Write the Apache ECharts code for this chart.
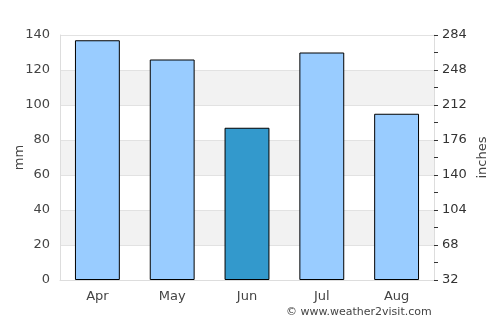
<!DOCTYPE html>
<html>
<head>
<meta charset="utf-8">
<script src="https://cdn.jsdelivr.net/npm/echarts@6/dist/echarts.min.js"></script>
<style>
  html, body { margin: 0; padding: 0; background: #fff; }
  #chart { width: 500px; height: 325px; }
</style>
</head>
<body>
<div id="chart"></div>
<script>
// monthly rainfall, mm
const months = ['Apr', 'May', 'Jun', 'Jul', 'Aug'];
const rainMm = [137, 126, 87, 130, 95];
const highlightMonth = 'Jun';

const chart = echarts.init(document.getElementById('chart'));

const barData = rainMm.map((v, i) => ({
    value: v,
    itemStyle: { color: months[i] === highlightMonth ? '#3399cc' : '#99ccff' }
}));

chart.setOption({
    animation: false,
    grid: { left: 60, right: 66, top: 35, bottom: 45, containLabel: false, outerBoundsMode: 'none' },
    xAxis: {
        type: 'category',
        data: months,
        axisLine: { lineStyle: { color: '#dddddd' } },
        axisTick: { show: false },
        axisLabel: { color: '#444', fontSize: 13, margin: 10, fontFamily: 'DejaVu Sans' }
    },
    yAxis: [{
        type: 'value',
        min: 0, max: 140, interval: 20,
        name: 'mm',
        nameLocation: 'middle',
        nameGap: 34,
        nameMoveOverlap: false,
        nameTextStyle: { color: '#444', fontSize: 13, fontFamily: 'DejaVu Sans' },
        axisLine: { show: true, lineStyle: { color: '#dddddd' } },
        axisTick: { show: false },
        axisLabel: { color: '#444', fontSize: 13, margin: 10, fontFamily: 'DejaVu Sans' },
        splitLine: { lineStyle: { color: '#e2e2e2' } },
        splitArea: { show: true, areaStyle: { color: ['#ffffff', '#f2f2f2'] } }
    }, {
        type: 'value',
        position: 'right',
        min: 0, max: 140, interval: 20,
        name: 'inches',
        nameLocation: 'middle',
        nameGap: 42,
        nameMoveOverlap: false,
        nameTextStyle: { color: '#444', fontSize: 13, fontFamily: 'DejaVu Sans' },
        axisLine: { show: true, lineStyle: { color: '#dddddd' } },
        axisTick: { show: true, length: 4, lineStyle: { color: '#333' } },
        minorTick: { show: true, splitNumber: 2, length: 4, lineStyle: { color: '#333' } },
        axisLabel: {
            color: '#333', fontSize: 13, margin: 8, fontFamily: 'DejaVu Sans',
            formatter: v => Math.round(v * 1.8 + 32)
        },
        splitLine: { show: false }
    }],
    graphic: [{
        type: 'line',
        shape: { x1: 60, y1: 35.5, x2: 434, y2: 35.5 },
        style: { stroke: '#dddddd', lineWidth: 1 }
    }, {
        type: 'text',
        left: 286, top: 307,
        style: { text: '© www.weather2visit.com', fill: '#444', fontSize: 11, fontFamily: 'DejaVu Sans' }
    }],
    series: [{
        type: 'bar',
        data: barData,
        barWidth: '60%',
        itemStyle: { borderColor: '#000', borderWidth: 1 }
    }]
});
</script>
</body>
</html>
